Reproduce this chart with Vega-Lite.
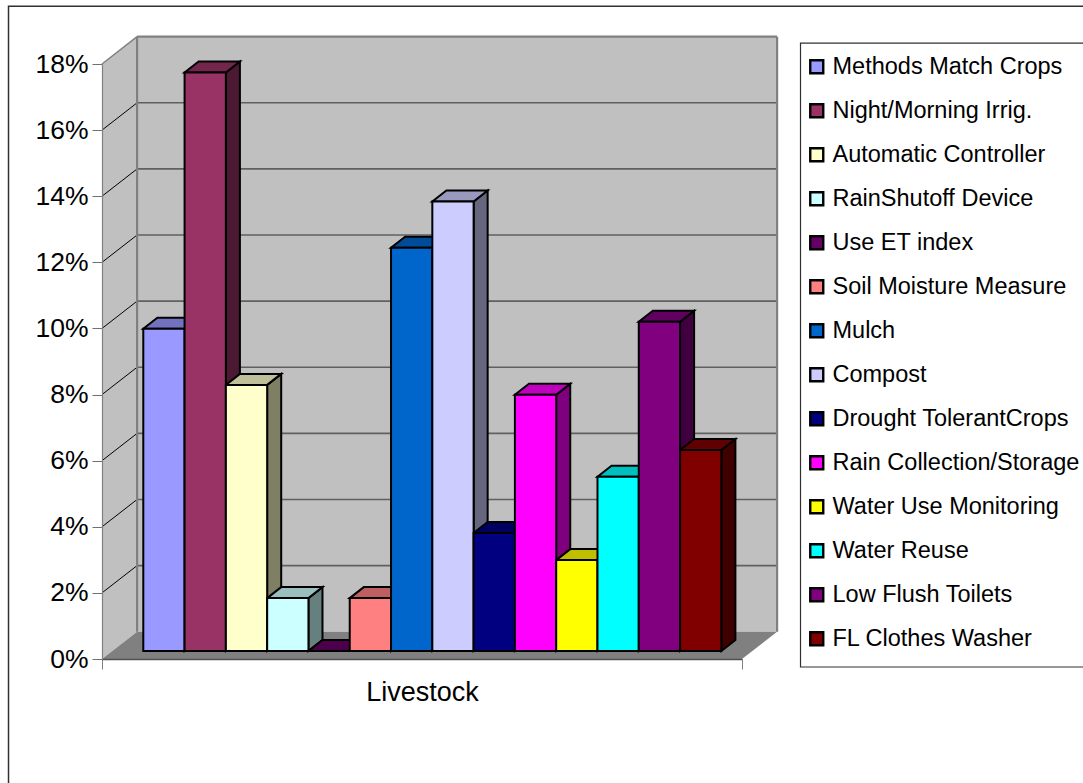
{
  "$schema": "https://vega.github.io/schema/vega-lite/v6.json",
  "width": 640,
  "height": 595,
  "autosize": {"type": "none"},
  "padding": {"left": 102, "top": 64, "right": 341, "bottom": 124},
  "background": "white",
  "config": {"font": "Liberation Sans", "view": {"stroke": null}},
  "datasets": {
    "bars": [
      {"name": "Methods Match Crops", "order": 1, "value": 0.0975},
      {"name": "Night/Morning Irrig.", "order": 2, "value": 0.175},
      {"name": "Automatic Controller", "order": 3, "value": 0.0805},
      {"name": "RainShutoff Device", "order": 4, "value": 0.016},
      {"name": "Use ET index", "order": 5, "value": 0},
      {"name": "Soil Moisture Measure", "order": 6, "value": 0.016},
      {"name": "Mulch", "order": 7, "value": 0.122},
      {"name": "Compost", "order": 8, "value": 0.136},
      {"name": "Drought TolerantCrops", "order": 9, "value": 0.0357},
      {"name": "Rain Collection/Storage", "order": 10, "value": 0.0775},
      {"name": "Water Use Monitoring", "order": 11, "value": 0.0275},
      {"name": "Water Reuse", "order": 12, "value": 0.0527},
      {"name": "Low Flush Toilets", "order": 13, "value": 0.0996},
      {"name": "FL Clothes Washer", "order": 14, "value": 0.0608}
    ],
    "depth": [{"d": 0}, {"d": 1}],
    "levels": [
      {"v": 0.02}, {"v": 0.04}, {"v": 0.06}, {"v": 0.08}, {"v": 0.1},
      {"v": 0.12}, {"v": 0.14}, {"v": 0.16}
    ],
    "one": [{}]
  },
  "layer": [
    {
      "description": "Outer chart frame and legend box",
      "data": {"name": "one"},
      "layer": [
        {
          "mark": {"type": "rect", "fill": null, "stroke": "#303030", "strokeWidth": 1.5, "clip": false},
          "encoding": {
            "x": {"datum": -2.264, "type": "quantitative"},
            "x2": {"datum": 25},
            "y": {"datum": 0.1975, "type": "quantitative"},
            "y2": {"datum": -0.05}
          }
        },
        {
          "mark": {"type": "rect", "fill": null, "stroke": "#303030", "strokeWidth": 1.2, "clip": false},
          "encoding": {
            "x": {"datum": 16.917, "type": "quantitative"},
            "x2": {"datum": 25},
            "y": {"datum": 0.1863, "type": "quantitative"},
            "y2": {"datum": -0.00242}
          }
        }
      ]
    },
    {
      "description": "Left wall",
      "data": {"name": "depth"},
      "transform": [
        {"calculate": "datum.d * 0.85", "as": "wx"},
        {"calculate": "datum.d * 0.00826", "as": "wy"},
        {"calculate": "0.18 + datum.d * 0.00826", "as": "wy2"}
      ],
      "mark": {"type": "area", "fill": "#c0c0c0", "orient": "vertical", "clip": false},
      "encoding": {
        "x": {
          "field": "wx",
          "type": "quantitative",
          "scale": {"domain": [0, 15.5], "nice": false, "zero": false},
          "axis": {
            "values": [0, 15.5],
            "labels": false,
            "grid": false,
            "title": "Livestock",
            "titleFontSize": 27,
            "titleFontWeight": "normal",
            "titleColor": "black",
            "titlePadding": 10,
            "domainColor": "#505050",
            "domainWidth": 1.5,
            "tickColor": "#808080",
            "tickSize": 10,
            "zindex": 1
          }
        },
        "y": {
          "field": "wy",
          "type": "quantitative",
          "scale": {"domain": [0, 0.18], "nice": false, "zero": false},
          "axis": {
            "values": [0, 0.02, 0.04, 0.06, 0.08, 0.1, 0.12, 0.14, 0.16, 0.18],
            "format": ".0%",
            "grid": false,
            "title": null,
            "labelFontSize": 26.5,
            "labelColor": "black",
            "labelPadding": 4,
            "domainColor": "#808080",
            "domainWidth": 1.2,
            "tickColor": "#707070",
            "tickSize": 10,
            "zindex": 1
          }
        },
        "y2": {"field": "wy2"}
      }
    },
    {
      "description": "Back wall",
      "data": {"name": "one"},
      "mark": {"type": "rect", "fill": "#c0c0c0", "clip": false},
      "encoding": {
        "x": {"datum": 0.85, "type": "quantitative"},
        "x2": {"datum": 16.35},
        "y": {"datum": 0.00826, "type": "quantitative"},
        "y2": {"datum": 0.18826}
      }
    },
    {
      "description": "Floor",
      "data": {"name": "depth"},
      "transform": [
        {"calculate": "datum.d * 0.85", "as": "fx"},
        {"calculate": "15.5 + datum.d * 0.85", "as": "fx2"},
        {"calculate": "datum.d * 0.00826", "as": "fy"}
      ],
      "mark": {"type": "area", "fill": "#808080", "orient": "horizontal", "clip": false},
      "encoding": {
        "y": {"field": "fy", "type": "quantitative", "stack": null},
        "x": {"field": "fx", "type": "quantitative"},
        "x2": {"field": "fx2"}
      }
    },
    {
      "description": "Gridlines on the left and back walls",
      "data": {"name": "levels"},
      "transform": [{"calculate": "datum.v + 0.00826", "as": "vb"}],
      "layer": [
        {
          "mark": {"type": "rule", "stroke": "#606060", "strokeWidth": 1.6, "clip": false},
          "encoding": {
            "x": {"datum": 0.85, "type": "quantitative"},
            "x2": {"datum": 16.35},
            "y": {"field": "vb", "type": "quantitative"}
          }
        },
        {
          "mark": {"type": "rule", "stroke": "black", "strokeWidth": 1, "clip": false},
          "encoding": {
            "x": {"datum": 0, "type": "quantitative"},
            "x2": {"datum": 0.85},
            "y": {"field": "v", "type": "quantitative"},
            "y2": {"field": "vb"}
          }
        }
      ]
    },
    {
      "description": "Grey edges of the wall box",
      "data": {"name": "one"},
      "layer": [
        {
          "mark": {"type": "rule", "stroke": "#808080", "strokeWidth": 2.2, "clip": false},
          "encoding": {
            "x": {"datum": 0.85, "type": "quantitative"},
            "x2": {"datum": 16.35},
            "y": {"datum": 0.18826, "type": "quantitative"}
          }
        },
        {
          "mark": {"type": "rule", "stroke": "#808080", "strokeWidth": 2.2, "clip": false},
          "encoding": {
            "x": {"datum": 0.85, "type": "quantitative"},
            "y": {"datum": 0.00826, "type": "quantitative"},
            "y2": {"datum": 0.18826}
          }
        },
        {
          "mark": {"type": "rule", "stroke": "#808080", "strokeWidth": 2.2, "clip": false},
          "encoding": {
            "x": {"datum": 16.35, "type": "quantitative"},
            "y": {"datum": 0.00826, "type": "quantitative"},
            "y2": {"datum": 0.18826}
          }
        },
        {
          "mark": {"type": "rule", "stroke": "#808080", "strokeWidth": 1.5, "clip": false},
          "encoding": {
            "x": {"datum": 0, "type": "quantitative"},
            "x2": {"datum": 0.85},
            "y": {"datum": 0.18, "type": "quantitative"},
            "y2": {"datum": 0.18826}
          }
        }
      ]
    },
    {
      "description": "Right-hand faces of the columns, shaded to half brightness",
      "data": {"name": "bars"},
      "transform": [
        {"calculate": "[0, 1]", "as": "d"},
        {"flatten": ["d"]},
        {"calculate": "datum.order + 1 + datum.d * 0.34", "as": "sx"},
        {"calculate": "0.00242 + datum.d * 0.00333", "as": "sy"},
        {"calculate": "0.00242 + datum.value + datum.d * 0.00333", "as": "sy2"}
      ],
      "layer": [
        {
          "mark": {"type": "area", "orient": "vertical", "clip": false},
          "encoding": {
            "x": {"field": "sx", "type": "quantitative"},
            "y": {"field": "sy", "type": "quantitative", "stack": null},
            "y2": {"field": "sy2"},
            "color": {"field": "name", "type": "nominal"},
            "detail": {"field": "name"}
          }
        },
        {
          "mark": {"type": "area", "orient": "vertical", "fill": "black", "fillOpacity": 0.5, "stroke": "black", "strokeWidth": 2, "strokeJoin": "miter", "clip": false},
          "encoding": {
            "x": {"field": "sx", "type": "quantitative"},
            "y": {"field": "sy", "type": "quantitative", "stack": null},
            "y2": {"field": "sy2"},
            "detail": {"field": "name"}
          }
        }
      ]
    },
    {
      "description": "Top faces of the columns, slightly shaded",
      "data": {"name": "bars"},
      "transform": [
        {"calculate": "[0, 1]", "as": "d"},
        {"flatten": ["d"]},
        {"calculate": "datum.order + datum.d * 0.34", "as": "tx"},
        {"calculate": "datum.order + 1 + datum.d * 0.34", "as": "tx2"},
        {"calculate": "0.00242 + datum.value + datum.d * 0.00333", "as": "ty"}
      ],
      "layer": [
        {
          "mark": {"type": "area", "orient": "horizontal", "clip": false},
          "encoding": {
            "y": {"field": "ty", "type": "quantitative", "stack": null},
            "x": {"field": "tx", "type": "quantitative"},
            "x2": {"field": "tx2"},
            "color": {"field": "name", "type": "nominal"},
            "detail": {"field": "name"}
          }
        },
        {
          "mark": {"type": "area", "orient": "horizontal", "fill": "black", "fillOpacity": 0.25, "stroke": "black", "strokeWidth": 2, "strokeJoin": "miter", "clip": false},
          "encoding": {
            "y": {"field": "ty", "type": "quantitative", "stack": null},
            "x": {"field": "tx", "type": "quantitative"},
            "x2": {"field": "tx2"},
            "detail": {"field": "name"}
          }
        }
      ]
    },
    {
      "description": "Front faces of the columns",
      "data": {"name": "bars"},
      "transform": [
        {"calculate": "datum.order + 1", "as": "rightEdge"},
        {"calculate": "0.00242 + datum.value", "as": "top"},
        {"calculate": "0.00242", "as": "base"}
      ],
      "mark": {"type": "rect", "stroke": "black", "strokeWidth": 2, "clip": false},
      "encoding": {
        "x": {"field": "order", "type": "quantitative"},
        "x2": {"field": "rightEdge"},
        "y": {"field": "top", "type": "quantitative"},
        "y2": {"field": "base"},
        "color": {
          "field": "name",
          "type": "nominal",
          "scale": {
            "domain": [
              "Methods Match Crops", "Night/Morning Irrig.", "Automatic Controller", "RainShutoff Device",
              "Use ET index", "Soil Moisture Measure", "Mulch", "Compost", "Drought TolerantCrops",
              "Rain Collection/Storage", "Water Use Monitoring", "Water Reuse", "Low Flush Toilets", "FL Clothes Washer"
            ],
            "range": [
              "#9999ff", "#993366", "#ffffcc", "#ccffff", "#660066", "#ff8080", "#0066cc",
              "#ccccff", "#000080", "#ff00ff", "#ffff00", "#00ffff", "#800080", "#800000"
            ]
          },
          "legend": {
            "orient": "none",
            "legendX": 693,
            "legendY": -19,
            "title": null,
            "padding": 10,
            "rowPadding": 19,
            "labelFontSize": 23.5,
            "labelColor": "black",
            "labelLimit": 400,
            "labelOffset": 4,
            "symbolType": "square",
            "symbolSize": 169,
            "symbolStrokeColor": "black",
            "symbolStrokeWidth": 2.4,
            "symbolOpacity": 1
          }
        }
      }
    }
  ]
}
